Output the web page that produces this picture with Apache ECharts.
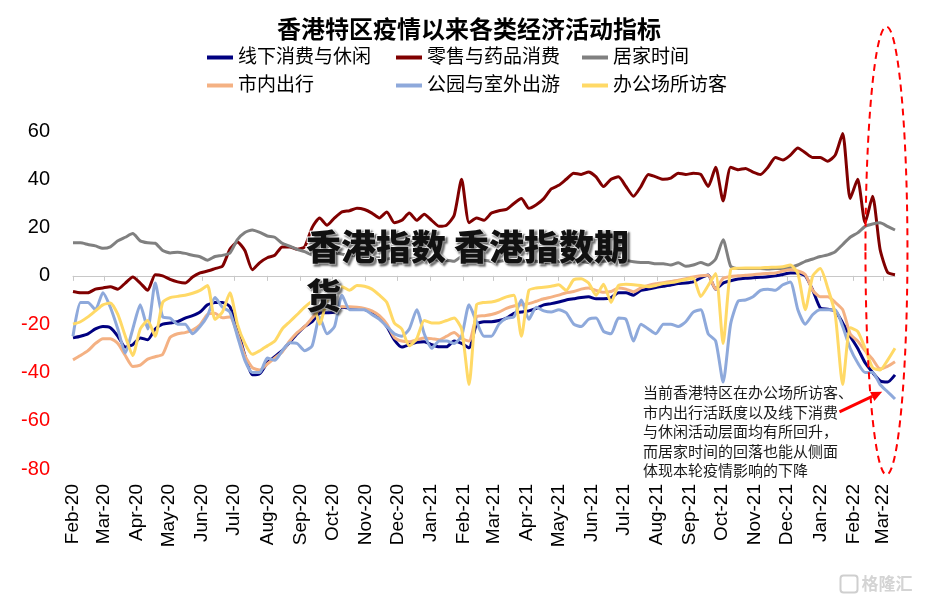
<!DOCTYPE html>
<html>
<head>
<meta charset="utf-8">
<script src="https://cdn.jsdelivr.net/npm/echarts@6/dist/echarts.min.js"></script>
<style>
  html, body { margin: 0; padding: 0; background: #fff; }
  #chart { width: 932px; height: 601px; }
</style>
</head>
<body>
<div id="chart"></div>
<script>
// 香港特区疫情以来各类经济活动指标 (周度取样, 自 2020-02-15 起每 7 天一个点)
const startDay = '2020-02-15'
const dayCount = 771
const weekStep = 7

const seriesNames = ['线下消费与休闲', '零售与药品消费', '居家时间', '市内出行', '公园与室外出游', '办公场所访客']
const seriesColors = ['#000080', '#800000', '#808080', '#F4B183', '#8EA9DB', '#FFD966']

const yTicks = { min: -80, max: 60, step: 20 }
const monthNames = ['Jan', 'Feb', 'Mar', 'Apr', 'May', 'Jun', 'Jul', 'Aug', 'Sep', 'Oct', 'Nov', 'Dec']

const offlineLeisure = [
    -25.7, -25, -24, -22, -21, -21.5, -25, -29.5, -28.5, -25.7,
    -26.5, -22, -20, -19.5, -19, -17.5, -16.5, -15, -12, -11,
    -11, -12.8, -22, -33, -41, -40.5, -36, -33.5, -31, -27.5,
    -24, -21, -19, -15.5, -15.3, -15, -13, -13.3, -13.5, -14,
    -15, -17.5, -21, -26.5, -29.5, -28.5, -27.5, -27.3, -28.5, -29.4,
    -29.4, -27, -28, -29.8, -20, -19, -19, -18.5, -17.5, -15.5,
    -15, -14.5, -13.5, -12, -11.5, -10.8, -10, -9.5, -9, -8.7,
    -9.5, -9.5, -9, -7, -7, -8, -6, -5.5, -4.8, -4.3,
    -3.8, -3.2, -3, -2.5, -0.8, 0.4, -5.5, -3, -2, -1.3,
    -1, -0.8, -0.6, -0.4, 0, 0.6, 1.2, 1.2, 0, -6,
    -13.3, -13.8, -14.5, -19.5, -25, -30, -36, -40, -43.5, -44,
    -41
]
const retailPharmacy = [
    -6.5, -7, -7, -5.5, -5, -4.5, -5.5, -3, -0.5, -3,
    -6, 0.5, 0, -1.5, -2.5, -3, -0.5, 1.2, 2, 3,
    4, 11, 14, 10.5, 2.5, 5.5, 7.5, 8.5, 12, 12,
    11, 12, 20, 24, 21, 24, 26.5, 27, 28, 27.5,
    26, 24, 26.5, 22, 23, 26, 23, 25.5, 23, 20.5,
    21, 25, 40, 22, 24, 23, 26, 27, 27.5, 30,
    32, 28, 29.5, 32, 36, 37.5, 40, 42.5, 42, 43,
    41, 37, 40, 41, 37, 33, 37, 42, 41, 40,
    40.5, 42.5, 42, 42.5, 42, 37, 45, 31, 45, 44,
    44.5, 43, 42, 45, 49, 48, 50, 53, 51, 49,
    49, 47.5, 50, 59, 32, 40, 22, 33, 11, 1.5,
    0.5
]
const homeTime = [
    13.7, 13.7, 13, 12.4, 11.4, 12, 14.5, 16, 17.5, 14.5,
    13.7, 13.5, 10.5, 9.5, 9.8, 9.3, 8.5, 7.9, 6.5, 8,
    8.5, 9.5, 15, 18, 19, 18, 16.5, 16, 13.5, 12.3,
    11, 10, 8.7, 8, 9, 9.5, 9, 8.5, 8.5, 8,
    7.5, 7.5, 7, 7.5, 7, 7, 7, 6.5, 7, 6.5,
    6.5, 6, 8, 6, 6.5, 6.5, 6, 6, 6.5, 6,
    6, 6, 6, 5.5, 6, 6, 5.5, 6, 6, 5.5,
    6, 6, 6.5, 7.5, 6.5, 5.8, 5.5, 5.5, 5, 5,
    4.5, 5.4, 4, 4.5, 5.5, 4.5, 7, 15, 4, 3,
    3, 3, 3, 2.8, 3, 3, 3.5, 4.5, 6, 7,
    8, 8.7, 10, 13, 16, 17.8, 20.5, 21.5, 22, 20.5,
    19
]
const cityTransit = [
    -34.8, -33, -31, -28, -26, -26, -28, -33, -37.5, -37,
    -34.5, -33.5, -32.5, -25.5, -24, -23.5, -22.5, -20.3, -16, -15.5,
    -17.4, -17, -24, -33, -38, -39, -36.5, -34, -31.5, -27,
    -23.5, -21, -17.5, -14, -13, -12.8, -12.8, -12.8, -13, -13.5,
    -14.5, -16.5, -20, -25.5, -27, -27.3, -26.5, -25.7, -26, -26.5,
    -25, -23.5, -26, -27, -17, -16.5, -16, -15, -13.5, -12.5,
    -12, -11.5, -10.5, -9.5, -8.8, -8, -7, -6.5, -5.5, -5,
    -6, -6.8, -6.5, -5, -5.5, -6.6, -5, -4, -3.3, -2.8,
    -2.3, -1.8, -1.2, -0.5, 0, 0.2, -5.5, -1, -0.3, 0,
    0.3, 0.5, 0.8, 1, 1.2, 2, 2.5, 2, 0.5, -6,
    -8.7, -8.7, -11, -14, -24, -27, -31, -34.5, -38.5, -37.5,
    -35.6
]
const parksOutdoor = [
    -25, -11, -11, -14, -7, -13, -22, -32, -22, -12,
    -22, -3, -17, -17.5, -20, -20, -24, -21, -16.5, -9,
    -13, -15, -25, -35, -40, -40, -34, -35, -31, -27.7,
    -28, -31, -29, -17, -24, -21, -8, -14, -14, -14,
    -16, -18, -21, -24, -25, -22, -14, -24, -30, -27,
    -27, -28, -25, -12, -19, -25, -25, -20, -17.5, -17,
    -10, -18, -13, -14.5, -15, -14, -15.3, -20, -21, -18,
    -17.5, -23, -24, -17.5, -18, -27, -20, -22, -24, -20,
    -20, -21, -19, -15, -14, -24, -27, -44, -20, -10.5,
    -10, -8.7, -6, -5.5, -6, -3.7, -2.5, -14, -20, -16,
    -14, -14, -14, -21, -30, -36, -40, -40, -45, -48,
    -51
]
const officeVisits = [
    -20, -19, -17, -14.5, -12, -11.2, -16, -25, -33, -22,
    -18.5, -25, -11, -9, -8.5, -8, -7.2, -6, -4, -18,
    -15, -7, -20, -28, -32.5, -31, -29, -27, -22, -19,
    -16, -13, -10.5, -20, -10, -6, -4.5, -6, -4, -4.3,
    -5.5, -8, -11, -19.5, -22, -29, -26, -18.5, -19.5, -19.5,
    -18.5, -17.5, -22, -45, -12, -11, -10.8, -10, -8.7, -8,
    -25, -6, -5, -4.7, -4.3, -3.7, -6, -1.6, -1.2, -3,
    -8, -3.5, -11, -4, -3.5, -3.7, -4, -4.5, -4, -3.2,
    -2.8, -2.2, -1.5, -1, -8.5, -4, 1, -28, 2.5, 3.2,
    3.3, 3.3, 3.3, 3.5, 3.6, 3.8, 4.5, 1, -14, 0,
    3, -5, -16, -45, -21.5, -23, -30, -38, -39, -35,
    -30
]
const seriesValues = [offlineLeisure, retailPharmacy, homeTime, cityTransit, parksOutdoor, officeVisits]

const noteLines = [
    '当前香港特区在办公场所访客、',
    '市内出行活跃度以及线下消费',
    '与休闲活动层面均有所回升，',
    '而居家时间的回落也能从侧面',
    '体现本轮疫情影响的下降'
]

// 每日日期作为类目, 月标签落在每月 15 日
const days = []
const d0 = new Date(startDay + 'T00:00:00Z')
for (let i = 0; i < dayCount; i++) {
    const d = new Date(d0.getTime() + i * 86400000)
    days.push(d.toISOString().slice(0, 10))
}
const isMonthTick = (idx, value) => value.slice(8) === '15'
const monthLabel = value => monthNames[+value.slice(5, 7) - 1] + '-' + value.slice(2, 4)

const fontFamily = '"Liberation Sans", "Noto Sans CJK SC", sans-serif'

const chart = echarts.init(document.getElementById('chart'), null, { renderer: 'canvas' })

const legendCommon = {
    orient: 'vertical',
    top: 43,
    itemGap: 9,
    itemWidth: 26,
    itemHeight: 4,
    icon: 'rect',
    selectedMode: false,
    textStyle: { fontSize: 19, color: '#000', fontFamily: fontFamily }
}

chart.setOption({
    animation: false,
    textStyle: { fontFamily: fontFamily },
    title: {
        text: '香港特区疫情以来各类经济活动指标',
        left: 272,
        top: 14,
        textStyle: { fontSize: 24, fontWeight: 'bold', color: '#000', fontFamily: fontFamily }
    },
    legend: [
        { ...legendCommon, left: 202, data: [seriesNames[0], seriesNames[3]] },
        { ...legendCommon, left: 391, data: [seriesNames[1], seriesNames[4]] },
        { ...legendCommon, left: 577, data: [seriesNames[2], seriesNames[5]] }
    ],
    grid: { left: 73, right: 37, top: 131, bottom: 132, containLabel: false },
    xAxis: [
        {
            // 0 轴线与刻度
            type: 'category',
            data: days,
            boundaryGap: false,
            axisLine: { show: true, onZero: true, lineStyle: { color: '#c8c8c8', width: 1 } },
            axisTick: { show: true, interval: isMonthTick, length: 5, lineStyle: { color: '#c8c8c8' } },
            axisLabel: { show: false },
            splitLine: { show: false }
        },
        {
            // 底部月份标签
            type: 'category',
            data: days,
            boundaryGap: false,
            position: 'bottom',
            axisLine: { show: false, onZero: false },
            axisTick: { show: false },
            axisLabel: {
                interval: isMonthTick,
                rotate: 90,
                margin: 15,
                fontSize: 19,
                color: '#000',
                formatter: monthLabel
            },
            splitLine: { show: false }
        }
    ],
    yAxis: {
        type: 'value',
        min: yTicks.min,
        max: yTicks.max,
        interval: yTicks.step,
        axisLine: { show: false },
        axisTick: { show: false },
        splitLine: { show: false },
        axisLabel: {
            margin: 23,
            fontSize: 20,
            color: v => (v < 0 ? '#ff0000' : '#000')
        }
    },
    series: seriesNames.map((name, idx) => ({
        name: name,
        type: 'line',
        xAxisIndex: 0,
        color: seriesColors[idx],
        showSymbol: false,
        symbol: 'none',
        smooth: 0.2,
        lineStyle: { width: 3 },
        data: seriesValues[idx].map((v, i) => [i * weekStep, v])
    }))
})

// 注释: 红色虚线椭圆和箭头, 位置按数据坐标换算
const ellipseCenter = chart.convertToPixel({ gridIndex: 0 }, ['2022-03-18', 10.4])
const arrowTip = chart.convertToPixel({ gridIndex: 0 }, ['2022-03-14', -48])
const arrowTail = chart.convertToPixel({ gridIndex: 0 }, ['2022-02-02', -56.3])
const dx = arrowTip[0] - arrowTail[0]
const dy = arrowTip[1] - arrowTail[1]
const len = Math.sqrt(dx * dx + dy * dy)
const ux = dx / len, uy = dy / len
const headLen = 11, headHalf = 5
const headBase = [arrowTip[0] - ux * headLen, arrowTip[1] - uy * headLen]

chart.setOption({
    graphic: [
        {
            type: 'ellipse',
            shape: { cx: ellipseCenter[0], cy: ellipseCenter[1], rx: 21, ry: 224 },
            style: { fill: 'none', stroke: '#ff0000', lineWidth: 2, lineDash: [7, 5] },
            z: 100
        },
        {
            type: 'line',
            shape: { x1: arrowTail[0], y1: arrowTail[1], x2: headBase[0], y2: headBase[1] },
            style: { stroke: '#ff0000', lineWidth: 3 },
            z: 100
        },
        {
            type: 'polygon',
            shape: {
                points: [
                    arrowTip,
                    [headBase[0] - uy * headHalf, headBase[1] + ux * headHalf],
                    [headBase[0] + uy * headHalf, headBase[1] - ux * headHalf]
                ]
            },
            style: { fill: '#ff0000' },
            z: 100
        },
        {
            type: 'text',
            left: 643,
            top: 383,
            z: 100,
            style: {
                text: noteLines.join('\n'),
                font: '15px "Noto Sans CJK SC", sans-serif',
                lineHeight: 19.5,
                fill: '#1a1a1a'
            }
        },
        {
            // 水印标题
            type: 'text',
            left: 305,
            top: 222,
            z: 110,
            style: {
                text: '香港指数 香港指数期\n货',
                font: '900 35px "Noto Sans CJK SC", sans-serif',
                lineHeight: 49,
                fill: '#111',
                stroke: '#fff',
                lineWidth: 2,
                textShadowColor: 'rgba(0,0,0,0.45)',
                textShadowBlur: 2,
                textShadowOffsetX: 2,
                textShadowOffsetY: 2
            }
        },
        {
            type: 'group',
            left: 838,
            top: 573,
            z: 100,
            children: [
                {
                    type: 'rect',
                    shape: { x: 0, y: 0, width: 17, height: 17, r: 3 },
                    style: { fill: 'none', stroke: '#cfcfcf', lineWidth: 2 }
                },
                {
                    type: 'text',
                    x: 21,
                    y: 0,
                    style: { text: '格隆汇', font: 'bold 17px "Noto Sans CJK SC", sans-serif', fill: '#d4d4d4' }
                }
            ]
        }
    ]
})
</script>
</body>
</html>
